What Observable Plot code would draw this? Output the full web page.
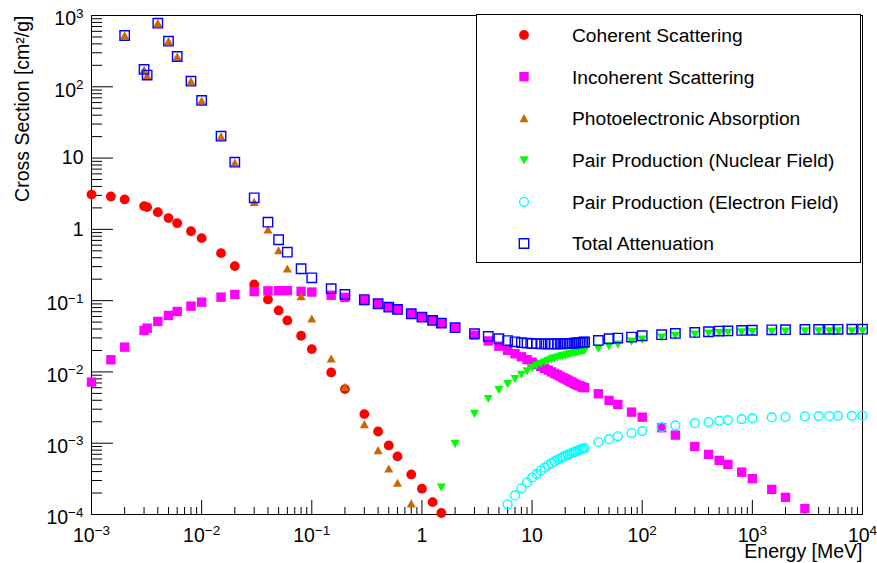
<!DOCTYPE html>
<html>
<head>
<meta charset="utf-8">
<script src="https://cdn.jsdelivr.net/npm/d3@7"></script>
<script src="https://cdn.jsdelivr.net/npm/@observablehq/plot@0.6"></script>
<style>
  body { margin: 0; background: #fff; }
  #chart svg { display: block; }
</style>
</head>
<body>
<div id="chart"></div>
<script>
// ---- Data (Energy [MeV], Cross Section [cm2/g]) ----
const coherent = [
  [0.001,3.08],[0.0015,2.89],[0.002,2.63],[0.003,2.12],[0.0032,2.05],[0.004,1.74],[0.005,1.44],[0.006,1.22],
  [0.008,0.94],[0.01,0.753],[0.015,0.464],[0.02,0.305],[0.03,0.169],[0.04,0.104],[0.05,0.0729],[0.06,0.0527],
  [0.08,0.0322],[0.1,0.0209],[0.15,0.00984],[0.2,0.00574],[0.3,0.00256],[0.4,0.00146],[0.5,0.00093],
  [0.6,0.000653],[0.8,0.000365],[1,0.000230],[1.25,0.000149],[1.5,0.000105]
];
const incoherent = [
  [0.001,0.0072],[0.0015,0.0148],[0.002,0.0223],[0.003,0.0382],[0.0032,0.0411],[0.004,0.0511],[0.005,0.0620],
  [0.006,0.0705],[0.008,0.0838],[0.01,0.0953],[0.015,0.112],[0.02,0.122],[0.03,0.134],[0.04,0.137],[0.05,0.138],
  [0.06,0.138],[0.08,0.135],[0.1,0.132],[0.15,0.119],[0.2,0.111],[0.3,0.1005],[0.4,0.0897],[0.5,0.0808],
  [0.6,0.0750],[0.8,0.0652],[1,0.0585],[1.25,0.0525],[1.5,0.0481],[2,0.0412],[3,0.0328],[4,0.0272],[5,0.0230],
  [6,0.0201],[7,0.0180],[8,0.0163],[9,0.0149],[10,0.0137],[11,0.0127],[12,0.0119],[13,0.0112],[14,0.0106],
  [15,0.0100],[16,0.0095],[17,0.0091],[18,0.0087],[19,0.0083],[20,0.0080],[21,0.0077],[22,0.0074],[23,0.0072],
  [24,0.0069],[25,0.0067],[26,0.0065],[27,0.0064],[28,0.0062],[29,0.0061],[30,0.0060],[40,0.00494],[50,0.00398],
  [60,0.00350],[80,0.00273],[100,0.00232],[150,0.00165],[200,0.00130],[300,0.00090],[400,0.000697],[500,0.000574],
  [600,0.000505],[800,0.000393],[1000,0.000318],[1500,0.000225],[2000,0.000174],[3000,0.000121]
];
const photoelectric = [
  [0.002,524],[0.003,172],[0.0032,143],[0.004,778],[0.005,434],[0.006,264],[0.008,119],[0.01,63.5],[0.015,20.0],
  [0.02,8.6],[0.03,2.41],[0.04,0.986],[0.05,0.506],[0.06,0.280],[0.08,0.1146],[0.1,0.0557],[0.15,0.0153],
  [0.2,0.00612],[0.3,0.00184],[0.4,0.000793],[0.5,0.000439],[0.6,0.000276],[0.8,0.000142]
];
const pairNuclear = [
  [1.5,0.00024],[2,0.00098],[3,0.0026],[4,0.0042],[5,0.0056],[6,0.0068],[7,0.0080],[8,0.0092],[9,0.0103],
  [10,0.0114],[11,0.0123],[12,0.0131],[13,0.0138],[14,0.0145],[15,0.0151],[16,0.0156],[17,0.0161],[18,0.0165],
  [19,0.0168],[20,0.0171],[21,0.0175],[22,0.0178],[23,0.0181],[24,0.0184],[25,0.0187],[26,0.0190],[27,0.0193],
  [28,0.0195],[29,0.0198],[30,0.0200],[40,0.0213],[50,0.0230],[60,0.0245],[80,0.0268],[100,0.0286],[150,0.0306],
  [200,0.0322],[300,0.0338],[400,0.0347],[500,0.0354],[600,0.0358],[800,0.0362],[1000,0.0365],[1500,0.0369],
  [2000,0.0371],[3000,0.0373],[4000,0.0374],[5000,0.0375],[6000,0.0375],[8000,0.0376],[10000,0.0376]
];
const pairElectron = [
  [6,0.000139],[7,0.000185],[8,0.000233],[9,0.000281],[10,0.000328],[11,0.000372],[12,0.000414],[13,0.000453],
  [14,0.000490],[15,0.000524],[16,0.000556],[17,0.000586],[18,0.000614],[19,0.000640],[20,0.000664],[21,0.000687],
  [22,0.000709],[23,0.000730],[24,0.000750],[25,0.000770],[26,0.000789],[27,0.000807],[28,0.000824],[29,0.000840],
  [30,0.000856],[40,0.00104],[50,0.00114],[60,0.00125],[80,0.00139],[100,0.00148],[150,0.00168],[200,0.00178],
  [300,0.00191],[400,0.00198],[500,0.00206],[600,0.00211],[800,0.00218],[1000,0.00223],[1500,0.00230],
  [2000,0.00233],[3000,0.00238],[4000,0.00240],[5000,0.00241],[6000,0.00242],[8000,0.00242],[10000,0.00243]
];
const totalAttenuation = [
  [0.002,524],[0.003,175],[0.0032,146],[0.004,780],[0.005,436],[0.006,266],[0.008,120],[0.01,64.3],[0.015,20.3],
  [0.02,8.77],[0.03,2.77],[0.04,1.26],[0.05,0.715],[0.06,0.479],[0.08,0.280],[0.1,0.209],[0.15,0.147],[0.2,0.122],
  [0.3,0.103],[0.4,0.0904],[0.5,0.0811],[0.6,0.0753],[0.8,0.0655],[1,0.0587],[1.25,0.0527],[1.5,0.0484],
  [2,0.0417],[3,0.0344],[4,0.0315],[5,0.0292],[6,0.0275],[7,0.0264],[8,0.0257],[9,0.0253],[10,0.0251],
  [11,0.0249],[12,0.0248],[13,0.0247],[14,0.0247],[15,0.0247],[16,0.0247],[17,0.0247],[18,0.0248],[19,0.0248],
  [20,0.0249],[21,0.0250],[22,0.0251],[23,0.0252],[24,0.0253],[25,0.0255],[26,0.0256],[27,0.0258],[28,0.0259],
  [29,0.0261],[30,0.0263],[40,0.0277],[50,0.0292],[60,0.0298],[80,0.0308],[100,0.0322],[150,0.0333],[200,0.0347],
  [300,0.0358],[400,0.0366],[500,0.0374],[600,0.0376],[800,0.0382],[1000,0.0384],[1500,0.0390],[2000,0.0391],
  [3000,0.0394],[4000,0.0395],[5000,0.0396],[6000,0.0396],[8000,0.0397],[10000,0.0398]
];

const legendLabels = [
  "Coherent Scattering", "Incoherent Scattering", "Photoelectronic Absorption",
  "Pair Production (Nuclear Field)", "Pair Production (Electron Field)", "Total Attenuation"
];
const xTicks = [1e-3, 1e-2, 1e-1, 1, 10, 100, 1000, 10000];
const xTickLabels = ["10^{-3}", "10^{-2}", "10^{-1}", "1", "10", "10^{2}", "10^{3}", "10^{4}"];
const yTicks = [1e-4, 1e-3, 1e-2, 1e-1, 1, 10, 100, 1000];
const yTickLabels = ["10^{-4}", "10^{-3}", "10^{-2}", "10^{-1}", "1", "10", "10^{2}", "10^{3}"];
const xTitle = "Energy [MeV]";
const yTitle = "Cross Section [cm\u00B2/g]";

// ---- Layout ----
const W = 877, H = 563, mL = 91, mR = 15, mT = 15, mB = 49;
const fw = W - mL - mR, fh = H - mT - mB;

const minorX = [];
for (let i = 0; i < xTicks.length - 1; i++) for (let k = 2; k <= 9; k++) minorX.push(xTicks[i] * k);
const minorY = [];
for (let i = 0; i < yTicks.length - 1; i++) for (let k = 2; k <= 9; k++) minorY.push(yTicks[i] * k);

// ---- Marker symbols (ROOT-like) ----
const symCircle = {draw(c) { c.moveTo(4.9, 0); c.arc(0, 0, 4.9, 0, 2 * Math.PI); }};
const symSquare = {draw(c) { c.rect(-4.7, -4.7, 9.4, 9.4); }};
const symTriUp = {draw(c) { c.moveTo(0, -4.3); c.lineTo(4.5, 3.8); c.lineTo(-4.5, 3.8); c.closePath(); }};
const symTriDown = {draw(c) { c.moveTo(0, 4.3); c.lineTo(4.5, -3.8); c.lineTo(-4.5, -3.8); c.closePath(); }};
const symOCircle = {draw(c) { c.moveTo(4.4, 0); c.arc(0, 0, 4.4, 0, 2 * Math.PI); }};
const symOSquare = {draw(c) { c.rect(-4.7, -4.7, 9.4, 9.4); }};

const series = [
  {data: coherent, sym: symCircle, fill: "#ff0000", stroke: "none"},
  {data: incoherent, sym: symSquare, fill: "#ff00ff", stroke: "none"},
  {data: photoelectric, sym: symTriUp, fill: "#cc6600", stroke: "none"},
  {data: pairNuclear, sym: symTriDown, fill: "#00ff00", stroke: "none"},
  {data: pairElectron, sym: symOCircle, fill: "none", stroke: "#00ffff"},
  {data: totalAttenuation, sym: symOSquare, fill: "none", stroke: "#0000ff"}
];

function legendMark() {
  const g = d3.create("svg:g");
  g.append("rect").attr("x", 476.5).attr("y", 14.5).attr("width", 384).attr("height", 248)
    .attr("fill", "white").attr("stroke", "black").attr("stroke-width", 1);
  series.forEach((s, i) => {
    const cy = 35 + i * 41.7;
    g.append("path").attr("transform", `translate(524,${cy})`)
      .attr("d", d3.symbol(s.sym)())
      .attr("fill", s.fill).attr("stroke", s.stroke).attr("stroke-width", s.stroke === "none" ? null : 1.4);
    g.append("text").attr("x", 572).attr("y", cy).attr("dy", "0.36em")
      .attr("text-anchor", "start").attr("font-size", "19.2px").attr("fill", "black").text(legendLabels[i]);
  });
  return g.node();
}

const marks = [
  Plot.frame({stroke: "black", strokeWidth: 1}),
  Plot.ruleX(xTicks, {x: d => d, insetTop: fh - 14, stroke: "black"}),
  Plot.ruleX(minorX, {x: d => d, insetTop: fh - 7, stroke: "black"}),
  Plot.ruleY(yTicks, {y: d => d, insetRight: fw - 22, stroke: "black"}),
  Plot.ruleY(minorY, {y: d => d, insetRight: fw - 11, stroke: "black"}),
  Plot.axisX(xTicks, {tickSize: 0, tickPadding: 14, label: null,
    tickFormat: d => xTickLabels[xTicks.indexOf(d)], fill: "black"}),
  Plot.axisY(yTicks, {tickSize: 0, tickPadding: 8, label: null,
    tickFormat: d => yTickLabels[yTicks.indexOf(d)], fill: "black"}),
  Plot.text([xTitle], {frameAnchor: "bottom-right", textAnchor: "end", lineAnchor: "bottom", dy: 43, fill: "black"}),
  Plot.text([yTitle], {frameAnchor: "top-left", rotate: -90, textAnchor: "end", lineAnchor: "bottom", dx: -63, fill: "black"})
];
series.forEach(s => {
  marks.push(Plot.dot(s.data, {x: d => d[0], y: d => d[1], symbol: s.sym, r: 5,
    fill: s.fill, stroke: s.stroke, strokeWidth: s.stroke === "none" ? undefined : 1.4}));
});
marks.push(legendMark);

const svg = Plot.plot({
  width: W, height: H,
  marginLeft: mL, marginRight: mR, marginTop: mT, marginBottom: mB,
  style: {fontFamily: '"Liberation Sans", Arial, Helvetica, sans-serif', fontSize: "19.5px", color: "black", background: "white", overflow: "visible"},
  x: {type: "log", domain: [1e-3, 1e4]},
  y: {type: "log", domain: [1e-4, 1e3]},
  marks
});

// ROOT-style superscripts for tick labels like 10^{-3}
const ns = "http://www.w3.org/2000/svg";
svg.querySelectorAll("text").forEach(t => {
  const m = t.textContent.match(/^(.*)\^\{(.*)\}$/);
  if (!m) return;
  const isY = !!t.closest('g[aria-label="y-axis tick label"]');
  t.textContent = "";
  const a = document.createElementNS(ns, "tspan");
  a.textContent = m[1];
  if (isY) a.setAttribute("dy", "3.5");
  const b = document.createElementNS(ns, "tspan");
  b.textContent = m[2].replace("-", "\u2212");
  b.setAttribute("font-size", "13.5");
  b.setAttribute("dy", "-7.7");
  t.append(a, b);
});

document.getElementById("chart").append(svg);
</script>
</body>
</html>
